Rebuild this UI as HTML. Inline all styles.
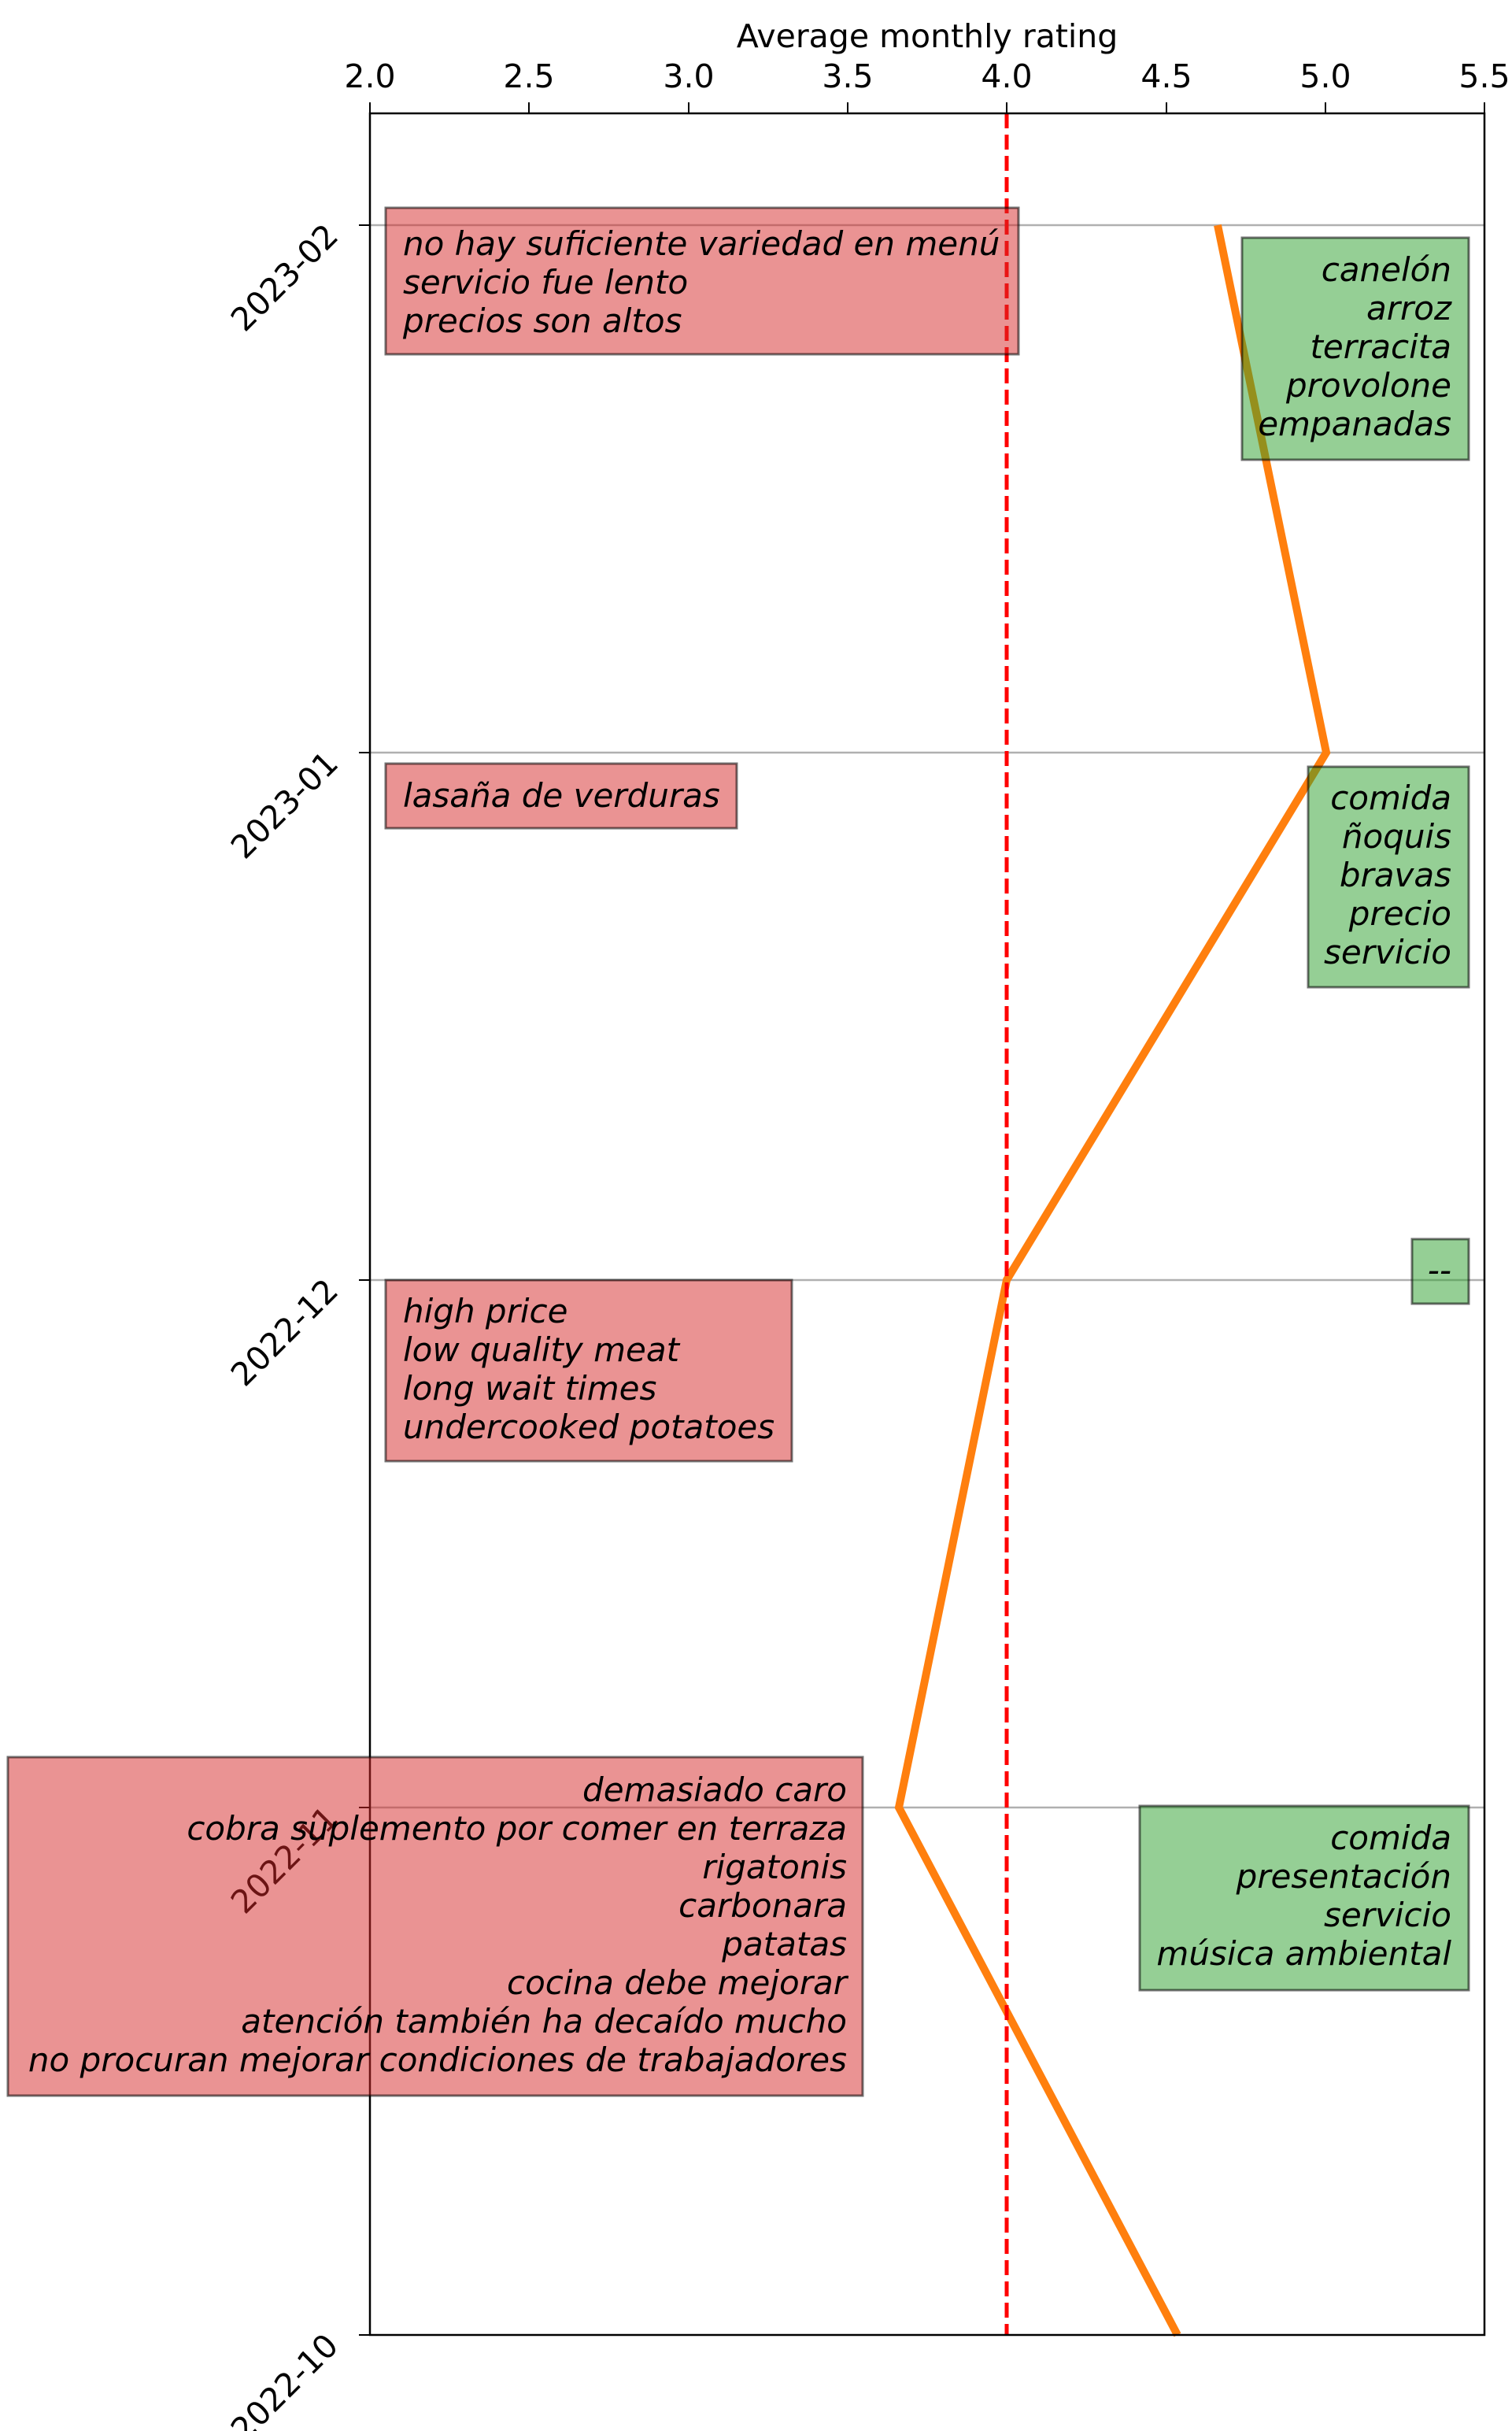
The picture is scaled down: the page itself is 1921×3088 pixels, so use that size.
<!DOCTYPE html>
<html><head><meta charset="utf-8"><style>
html,body{margin:0;padding:0;background:#fff;}
svg{display:block;}
text{font-family:"DejaVu Sans","Liberation Sans",sans-serif;}
.it{font-style:oblique;font-size:42px;fill:#000;}
.tk{font-size:41px;fill:#000;}
</style></head><body>
<svg width="1921" height="3088" viewBox="0 0 1921 3088" xmlns="http://www.w3.org/2000/svg">
<rect width="1921" height="3088" fill="#fff"/>
<g stroke="#b0b0b0" stroke-width="2.5">
<line x1="470" y1="286" x2="1886" y2="286"/>
<line x1="470" y1="956" x2="1886" y2="956"/>
<line x1="470" y1="1626" x2="1886" y2="1626"/>
<line x1="470" y1="2296" x2="1886" y2="2296"/>
</g>
<polyline points="1547,286 1685,956 1279,1626 1142,2296 1496,2966" fill="none" stroke="#ff7f0e" stroke-width="10" stroke-linejoin="miter"/>
<line x1="1279" y1="144" x2="1279" y2="2966" stroke="#ff0000" stroke-width="5" stroke-dasharray="19,8"/>
<rect x="470" y="144" width="1416" height="2822" fill="none" stroke="#000" stroke-width="2.5"/>
<g stroke="#000" stroke-width="2">
<line x1="470" y1="144" x2="470" y2="130"/>
<line x1="672" y1="144" x2="672" y2="130"/>
<line x1="875" y1="144" x2="875" y2="130"/>
<line x1="1077" y1="144" x2="1077" y2="130"/>
<line x1="1279" y1="144" x2="1279" y2="130"/>
<line x1="1482" y1="144" x2="1482" y2="130"/>
<line x1="1684" y1="144" x2="1684" y2="130"/>
<line x1="1886" y1="144" x2="1886" y2="130"/>
<line x1="456" y1="286" x2="470" y2="286"/>
<line x1="456" y1="956" x2="470" y2="956"/>
<line x1="456" y1="1626" x2="470" y2="1626"/>
<line x1="456" y1="2296" x2="470" y2="2296"/>
<line x1="456" y1="2966" x2="470" y2="2966"/>
</g>
<g class="tk" text-anchor="middle">
<text x="470" y="111">2.0</text>
<text x="672" y="111">2.5</text>
<text x="875" y="111">3.0</text>
<text x="1077" y="111">3.5</text>
<text x="1279" y="111">4.0</text>
<text x="1482" y="111">4.5</text>
<text x="1684" y="111">5.0</text>
<text x="1886" y="111">5.5</text>
<text x="1178" y="60">Average monthly rating</text>
</g>
<g class="tk" text-anchor="end">
<text transform="translate(432,302) rotate(-45)">2023-02</text>
<text transform="translate(432,972) rotate(-45)">2023-01</text>
<text transform="translate(432,1642) rotate(-45)">2022-12</text>
<text transform="translate(432,2312) rotate(-45)">2022-11</text>
<text transform="translate(432,2982) rotate(-45)">2022-10</text>
</g>
<g stroke="rgba(0,0,0,0.55)" stroke-width="3">
<rect x="490" y="264" width="804" height="186" fill="rgba(214,39,40,0.5)"/>
<rect x="1578" y="302" width="288" height="282" fill="rgba(44,160,44,0.5)"/>
<rect x="490" y="970" width="446" height="82" fill="rgba(214,39,40,0.5)"/>
<rect x="1662" y="974" width="204" height="280" fill="rgba(44,160,44,0.5)"/>
<rect x="1794" y="1574" width="72" height="82" fill="rgba(44,160,44,0.5)"/>
<rect x="490" y="1626" width="516" height="230" fill="rgba(214,39,40,0.5)"/>
<rect x="10" y="2232" width="1086" height="430" fill="rgba(214,39,40,0.5)"/>
<rect x="1448" y="2294" width="418" height="234" fill="rgba(44,160,44,0.5)"/>
</g>
<g class="it">
<text x="512" y="324">no hay suficiente variedad en menú</text>
<text x="512" y="373">servicio fue lento</text>
<text x="512" y="422">precios son altos</text>
<text x="512" y="1025">lasaña de verduras</text>
<text x="512" y="1680">high price</text>
<text x="512" y="1729">low quality meat</text>
<text x="512" y="1778">long wait times</text>
<text x="512" y="1827">undercooked potatoes</text>
</g>
<g class="it" text-anchor="end">
<text x="1844" y="357">canelón</text>
<text x="1844" y="406">arroz</text>
<text x="1844" y="455">terracita</text>
<text x="1844" y="504">provolone</text>
<text x="1844" y="553">empanadas</text>
<text x="1844" y="1028">comida</text>
<text x="1844" y="1077">ñoquis</text>
<text x="1844" y="1126">bravas</text>
<text x="1844" y="1175">precio</text>
<text x="1844" y="1224">servicio</text>
<text x="1844" y="1628">--</text>
<text x="1844" y="2349">comida</text>
<text x="1844" y="2398">presentación</text>
<text x="1844" y="2447">servicio</text>
<text x="1844" y="2496">música ambiental</text>
<text x="1076" y="2288">demasiado caro</text>
<text x="1076" y="2337">cobra suplemento por comer en terraza</text>
<text x="1076" y="2386">rigatonis</text>
<text x="1076" y="2435">carbonara</text>
<text x="1076" y="2484">patatas</text>
<text x="1076" y="2533">cocina debe mejorar</text>
<text x="1076" y="2582">atención también ha decaído mucho</text>
<text x="1076" y="2631">no procuran mejorar condiciones de trabajadores</text>
</g>
</svg>
</body></html>
